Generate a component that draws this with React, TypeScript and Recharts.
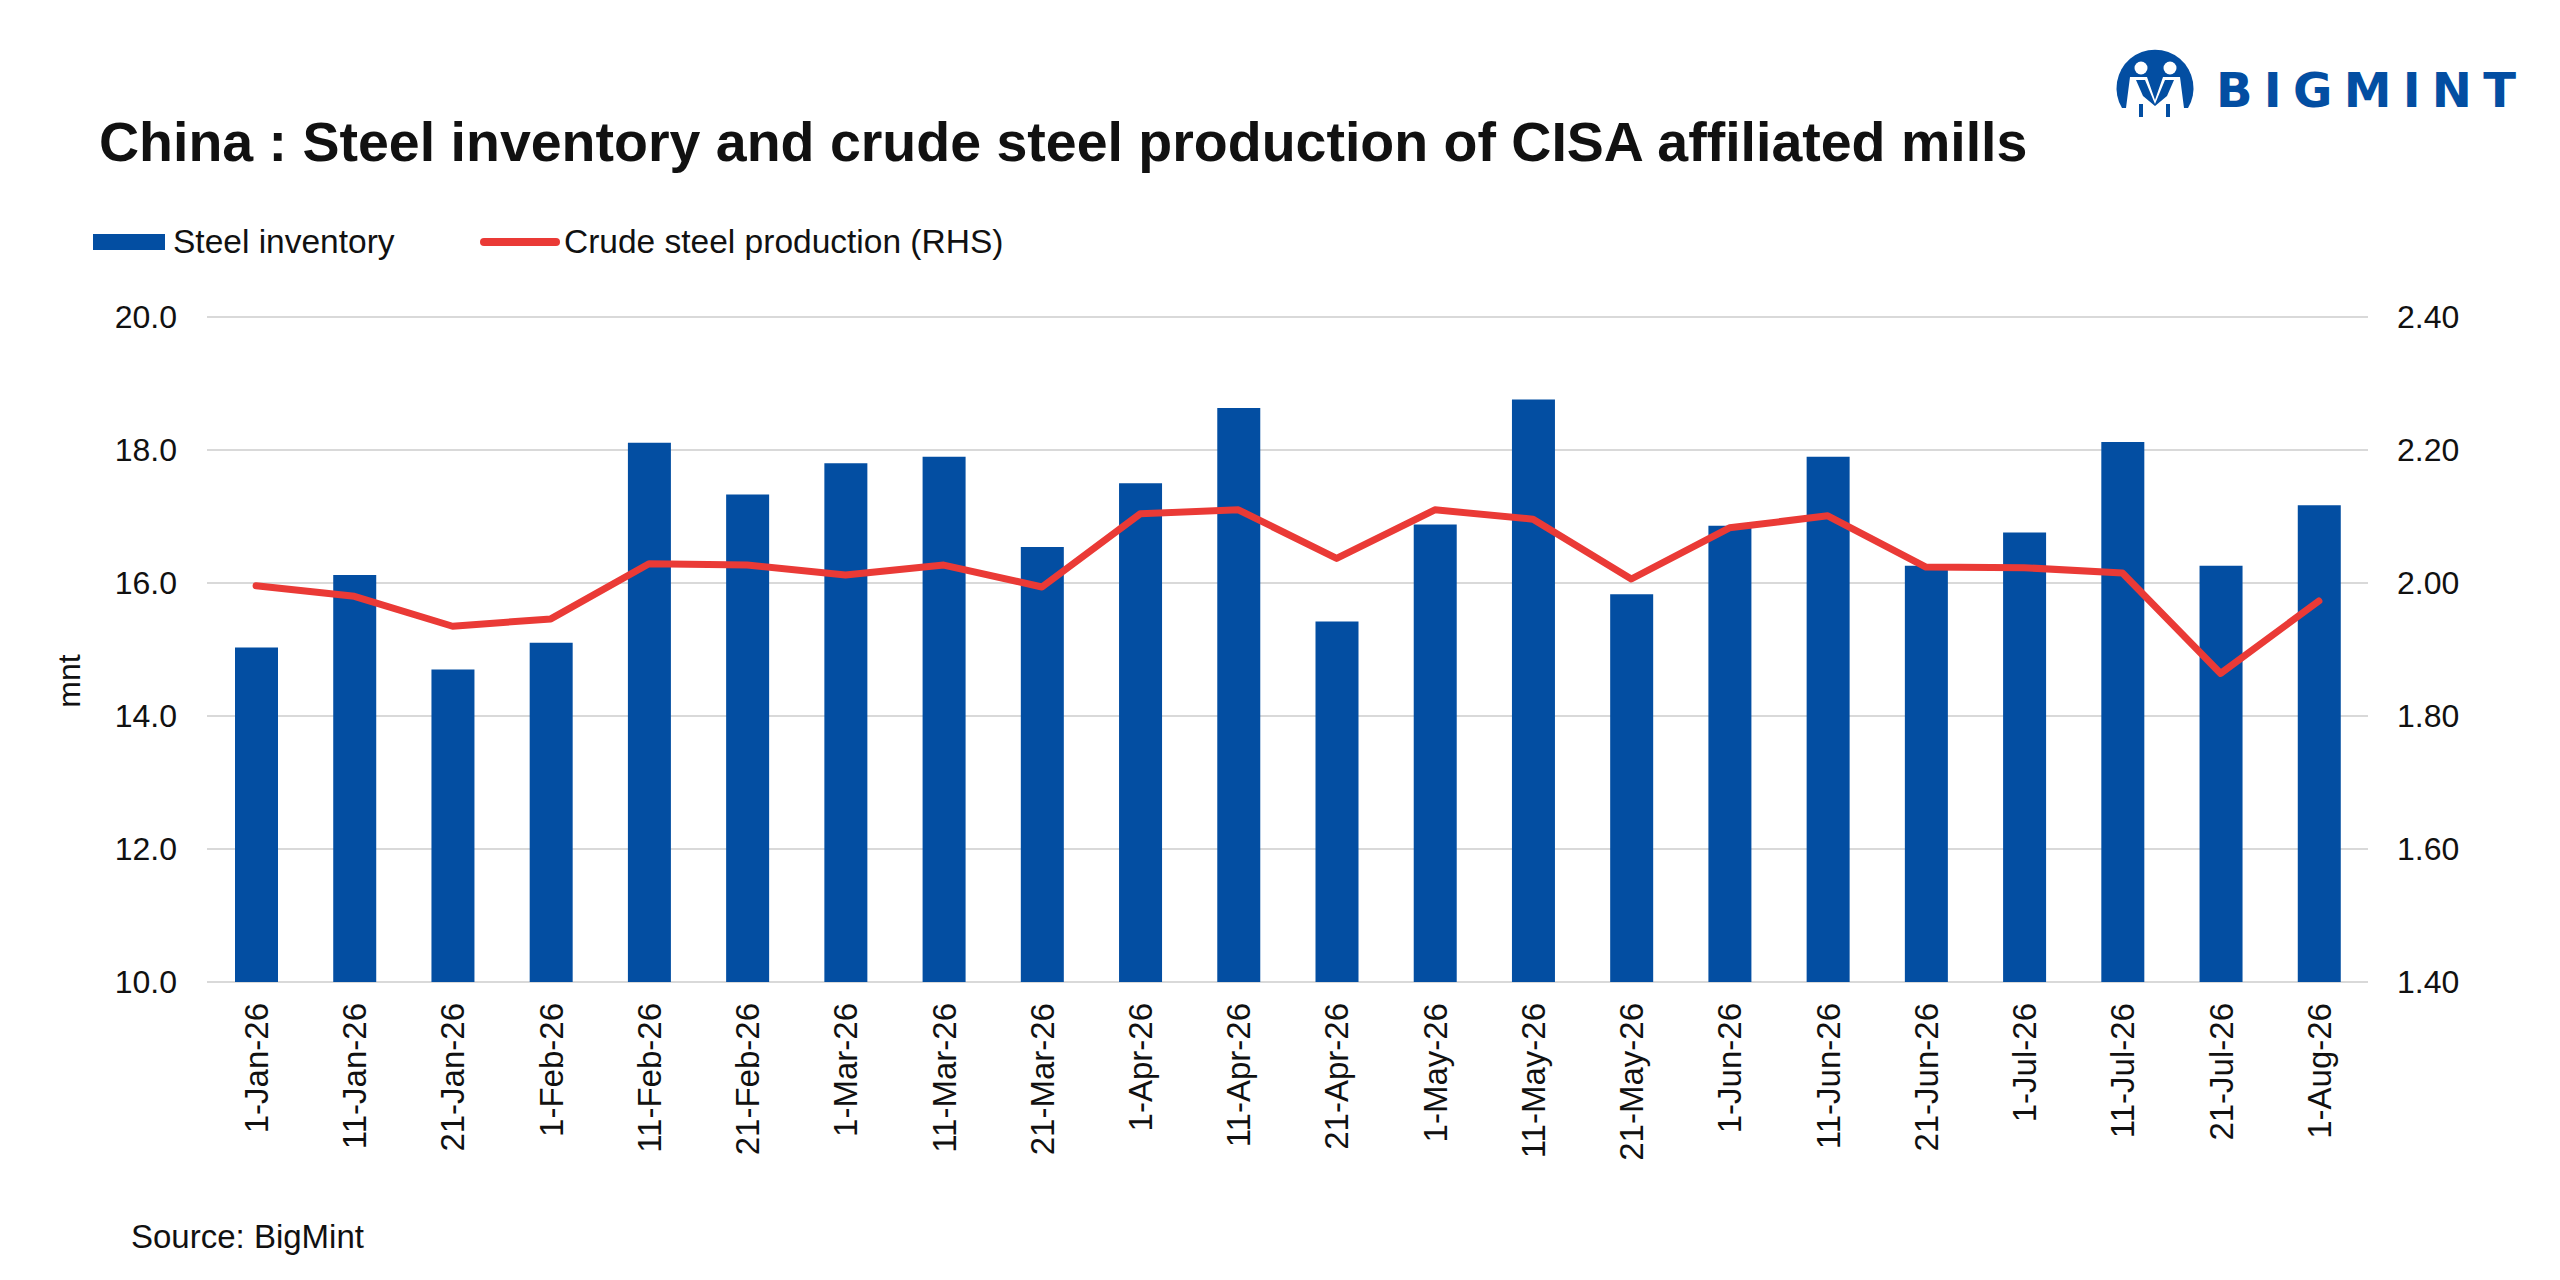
import { ComposedChart, Bar, Line, XAxis, YAxis, CartesianGrid, Legend } from "recharts";

const dates = [
  "1-Jan-26", "11-Jan-26", "21-Jan-26", "1-Feb-26", "11-Feb-26", "21-Feb-26",
  "1-Mar-26", "11-Mar-26", "21-Mar-26", "1-Apr-26", "11-Apr-26", "21-Apr-26",
  "1-May-26", "11-May-26", "21-May-26", "1-Jun-26", "11-Jun-26", "21-Jun-26",
  "1-Jul-26", "11-Jul-26", "21-Jul-26", "1-Aug-26",
];

// steel inventory, mnt (LHS)
const inventory = [
  15.03, 16.12, 14.7, 15.1, 18.11, 17.33, 17.8, 17.9, 16.54, 17.5, 18.63, 15.42,
  16.88, 18.76, 15.83, 16.86, 17.9, 16.26, 16.76, 18.12, 16.26, 17.17,
];

// crude steel production, mnt (RHS)
const production = [
  1.996, 1.98, 1.935, 1.946, 2.029, 2.027, 2.012, 2.027, 1.994, 2.104, 2.11, 2.037,
  2.11, 2.096, 2.006, 2.083, 2.101, 2.024, 2.023, 2.015, 1.864, 1.973,
];

const leftTicks = [10, 12, 14, 16, 18, 20];
const rightTicks = [1.4, 1.6, 1.8, 2.0, 2.2, 2.4];

const data = dates.map((d, i) => ({
  date: d,
  inventory: inventory[i],
  production: production[i],
}));

const BLUE = "#034ea2";
const RED = "#ea3a36";
const FONT = "'Liberation Sans', Arial, Helvetica, sans-serif";

const XTick = (props: any) => {
  const { x, y, payload } = props;
  return (
    <text
      x={x}
      y={y}
      transform={`rotate(-90, ${x}, ${y})`}
      textAnchor="end"
      dy="0.36em"
      fontSize={33}
      fill="#111"
      fontFamily={FONT}
    >
      {payload.value}
    </text>
  );
};

const renderLegend = () => (
  <div style={{ display: "flex", alignItems: "center", height: 40, fontSize: 33.5, color: "#111", fontFamily: FONT }}>
    <div style={{ display: "flex", alignItems: "center", width: 387 }}>
      <div style={{ width: 72, height: 16, background: BLUE, marginRight: 8 }} />
      <span>Steel inventory</span>
    </div>
    <div style={{ display: "flex", alignItems: "center" }}>
      <div style={{ width: 80, height: 8, borderRadius: 4, background: RED, marginRight: 4 }} />
      <span>Crude steel production (RHS)</span>
    </div>
  </div>
);

const Logo = () => (
  <g>
    <path d="M2122 108 A38.5 38.5 0 1 1 2188 108 Z" fill={BLUE} />
    <circle cx={2141} cy={68} r={6.5} fill="#fff" />
    <circle cx={2170} cy={68} r={6.5} fill="#fff" />
    <path d="M2130 77 L2147 77 L2155 100 L2163 77 L2180 77 L2184 108 L2126 108 Z" fill="#fff" />
    <path d="M2136 80 L2145 80 L2155 104 L2165 80 L2174 80 L2167 96 L2155 106 L2143 96 Z" fill={BLUE} />
    <rect x={2139} y={104} width={4} height={13} fill={BLUE} />
    <rect x={2166} y={104} width={4} height={13} fill={BLUE} />
    <text
      x={2216}
      y={107}
      fontSize={48}
      fontWeight={700}
      fill={BLUE}
      fontFamily="'DejaVu Sans', Verdana, sans-serif"
      textLength={300}
      lengthAdjust="spacing"
    >
      BIGMINT
    </text>
  </g>
);

export default function App() {
  return (
    <div
      style={{
        position: "absolute",
        left: 0,
        top: 0,
        width: 2560,
        height: 1280,
        background: "#fff",
        fontFamily: FONT,
      }}
    >
      <ComposedChart
        width={2560}
        height={1280}
        data={data}
        margin={{ top: 317, right: 72, left: 87, bottom: 138 }}
      >
        <CartesianGrid yAxisId="left" vertical={false} stroke="#d9d9d9" strokeWidth={2} />
        <XAxis
          dataKey="date"
          height={160}
          axisLine={false}
          tickLine={false}
          tickMargin={15}
          interval={0}
          tick={<XTick />}
        />
        <YAxis
          yAxisId="left"
          width={120}
          domain={[10, 20]}
          ticks={leftTicks}
          axisLine={false}
          tickLine={false}
          tickMargin={24}
          tickFormatter={(v: number) => v.toFixed(1)}
          tick={{ fontSize: 32, fill: "#111", fontFamily: FONT }}
        />
        <YAxis
          yAxisId="right"
          orientation="right"
          width={120}
          domain={[1.4, 2.4]}
          ticks={rightTicks}
          axisLine={false}
          tickLine={false}
          tickMargin={23}
          tickFormatter={(v: number) => v.toFixed(2)}
          tick={{ fontSize: 32, fill: "#111", fontFamily: FONT }}
        />
        <Legend
          layout="horizontal"
          verticalAlign="middle"
          align="center"
          content={renderLegend}
          wrapperStyle={{ top: 222, left: 93, width: 1100, height: 40 }}
        />
        <Bar
          yAxisId="left"
          dataKey="inventory"
          name="Steel inventory"
          fill={BLUE}
          barSize={43}
          isAnimationActive={false}
        />
        <Line
          yAxisId="right"
          dataKey="production"
          name="Crude steel production (RHS)"
          stroke={RED}
          strokeWidth={7}
          strokeLinecap="round"
          strokeLinejoin="round"
          dot={false}
          activeDot={false}
          isAnimationActive={false}
        />
      </ComposedChart>
      <svg
        width={2560}
        height={1280}
        style={{ position: "absolute", left: 0, top: 0, pointerEvents: "none" }}
      >
        <text x={99} y={161} fontSize={55.5} fontWeight={700} fill="#111" fontFamily={FONT}>
          China : Steel inventory and crude steel production of CISA affiliated mills
        </text>
        <text
          x={80}
          y={681}
          transform="rotate(-90, 80, 681)"
          textAnchor="middle"
          fontSize={32}
          fill="#111"
          fontFamily={FONT}
        >
          mnt
        </text>
        <text x={131} y={1248} fontSize={33} fill="#111" fontFamily={FONT}>
          Source: BigMint
        </text>
        <Logo />
      </svg>
    </div>
  );
}
